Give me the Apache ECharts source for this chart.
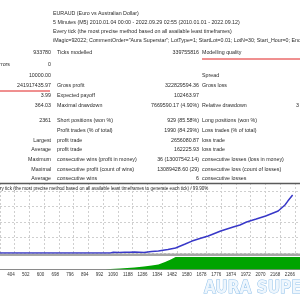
<!DOCTYPE html>
<html><head><meta charset="utf-8">
<script src="https://cdn.jsdelivr.net/npm/echarts@6/dist/echarts.min.js"></script>
<style>html,body{margin:0;padding:0;background:#fff}#c{width:300px;height:300px}</style>
</head><body><div id="c"></div>
<script>
// ---- report text ----
const headerLines = [
  "EURAUD (Euro vs Australian Dollar)",
  "5 Minutes (M5) 2010.01.04 00:00 - 2022.09.29 02:55 (2010.01.01 - 2022.09.12)",
  "Every tick (the most precise method based on all available least timeframes)",
  "iMagic=92022; CommentOrder=\"Aura Superstar\"; LotType=1; StartLot=0.01; LotN=30; Start_Hour=0; End_Hour=23;"
];
const leftValues  = ["933780", "0", "10000.00", "241917435.97", "3.99", "364.03", "2361", "", "Largest", "Average", "Maximum", "Maximal", "Average"];
const leftLabels  = ["Ticks modelled", "", "", "Gross profit", "Expected payoff", "Maximal drawdown", "Short positions (won %)", "Profit trades (% of total)", "profit trade", "profit trade", "consecutive wins (profit in money)", "consecutive profit (count of wins)", "consecutive wins"];
const midValues   = ["339755816", "", "", "322829594.36", "102463.97", "7669590.17 (4.90%)", "929 (85.58%)", "1990 (84.29%)", "2656080.87", "162225.93", "36 (13007542.14)", "13089428.60 (29)", "6"];
const midLabels   = ["Modelling quality", "", "Spread", "Gross loss", "", "Relative drawdown", "Long positions (won %)", "Loss trades (% of total)", "loss trade", "loss trade", "consecutive losses (loss in money)", "consecutive loss (count of losses)", "consecutive losses"];
const cutLeftText = "Mismatched charts errors";
const cutRightText = "3";
const chartTitle = "Every tick (the most precise method based on all available least timeframes to generate each tick) / 99.90%";
const watermark = "AURA SUPERSTAR";

// ---- chart data ----
const firstTickBar = 404, tickStep = 98;
const balanceBars   = [0, 1040, 1059, 1100, 1135, 1170, 1199, 1263, 1314, 1359, 1422, 1473, 1537, 1582, 1645, 1690, 1773, 1856, 1901, 1945, 2009, 2072, 2155, 2200, 2219, 2251];
const balanceValues = [0, 0,    0.5,  0.3,  0.45, 0.5,  0.65, 0.3,  1.0,  1.3,  2.3,  3.2,  5.8,  7.7,  9.7,  11.0, 14.2, 16.8, 18.1, 20.0, 21.9, 23.9, 27.1, 31.0, 33.5, 37.4];
const lotBars   = [1008, 1040, 1104, 1199, 1263, 1314, 1359, 1403, 1441, 1473, 2300];
const lotValues = [0,    0.04, 0.08, 0.16, 0.24, 0.32, 0.40, 0.60, 0.80, 1.0,  1.0];

// ---- layout ----
const FONT = '"Liberation Sans", Arial, sans-serif';
const fs = 5.3;
const rowY = [53, 65, 76, 86, 96, 106, 121, 131, 141, 150, 160, 170, 179];
const headerY = [14, 23, 32, 41];
// axis in "bar - offset" units so ticks fall on multiples of tickStep
const OFF = firstTickBar % tickStep;           // 12
const X_MIN = 294, X_MAX = 2288;               // bars 306 .. 2300
const PX_PER_BAR = 300 / (2219 - 306);
const gridW = (X_MAX - X_MIN) * PX_PER_BAR;

const g = [];
function txt(x, y, s, align, size) {
  if (!s) return;
  g.push({type:'text', x:x, y:y, z:10, silent:true,
    style:{text:s, font: (size||fs) + 'px ' + FONT, fill:'#2a2a2a', align:align||'left', verticalAlign:'middle'}});
}
headerLines.forEach((s,i)=>txt(53, headerY[i], s, 'left'));
rowY.forEach((y,i)=>{
  txt(51, y, leftValues[i], 'right');
  txt(57, y, leftLabels[i], 'left');
  txt(199, y, midValues[i], 'right');
  txt(202, y, midLabels[i], 'left');
});
txt(10, rowY[1], cutLeftText, 'right');
txt(296, rowY[5], cutRightText, 'left');
g.push({type:'line', z:10, shape:{x1:202, y1:59, x2:300, y2:59}, style:{stroke:'#e02020', lineWidth:1}});
g.push({type:'line', z:10, shape:{x1:0, y1:91, x2:50, y2:91}, style:{stroke:'#e02020', lineWidth:1}});
g.push({type:'line', z:10, shape:{x1:0, y1:183.5, x2:300, y2:183.5}, style:{stroke:'#5a5a5a', lineWidth:1.5}});
txt(-7.8, 188.5, chartTitle, 'left', 4.55);
g.push({type:'rect', z:1, shape:{x:0, y:253.5, width:300, height:2.5}, style:{fill:'#a6a6a6'}});
g.push({type:'text', x:204, y:289, z:20, silent:true, style:{text:watermark, font:'bold 17px "DejaVu Sans Condensed", sans-serif',
  fill:'#eef6fd', stroke:'#8fc0ea', lineWidth:1, align:'left', verticalAlign:'middle', shadowBlur:4, shadowColor:'#6aa8e0'}});

const chart = echarts.init(document.getElementById('c'), null, {renderer:'canvas'});
const xCommon = {type:'value', min:X_MIN, max:X_MAX, interval:tickStep, axisTick:{show:false}};
chart.setOption({
  animation:false,
  backgroundColor:'#ffffff',
  grid:[
    {left:0, top:183, width:gridW, height:70},
    {left:0, top:257, width:gridW, height:12.5}
  ],
  xAxis:[
    Object.assign({gridIndex:0, axisLine:{show:false}, axisLabel:{show:false},
     splitLine:{show:true, lineStyle:{color:'#cfcfcf', type:[2,2], width:1}}}, xCommon),
    Object.assign({gridIndex:1, axisLine:{show:true, lineStyle:{color:'#8a8a8a', width:1}},
     axisLabel:{show:true, align:'right', fontSize:4.5, color:'#333', margin:3, fontFamily:'"Liberation Sans", Arial',
       formatter:v=>String(v+OFF), showMinLabel:false, showMaxLabel:false},
     splitLine:{show:false}}, xCommon)
  ],
  yAxis:[
    {type:'value', gridIndex:0, min:0, max:45.16, interval:10, axisLine:{show:false}, axisLabel:{show:false}, axisTick:{show:false},
     splitLine:{show:true, lineStyle:{color:'#cfcfcf', type:[2,2], width:1}}},
    {type:'value', gridIndex:1, min:0, max:1, axisLine:{show:false}, axisLabel:{show:false}, axisTick:{show:false}, splitLine:{show:false}}
  ],
  series:[
    {type:'line', xAxisIndex:0, yAxisIndex:0, showSymbol:false, z:5,
     data: balanceBars.map((b,i)=>[b-OFF, balanceValues[i]]),
     lineStyle:{color:'#3838c8', width:1.5}},
    {type:'line', xAxisIndex:1, yAxisIndex:1, showSymbol:false,
     data: lotBars.map((b,i)=>[b-OFF, lotValues[i]]),
     lineStyle:{width:0}, itemStyle:{color:'#00a400'}, areaStyle:{color:'#00a400', opacity:1}}
  ],
  graphic: g
});
</script></body></html>
